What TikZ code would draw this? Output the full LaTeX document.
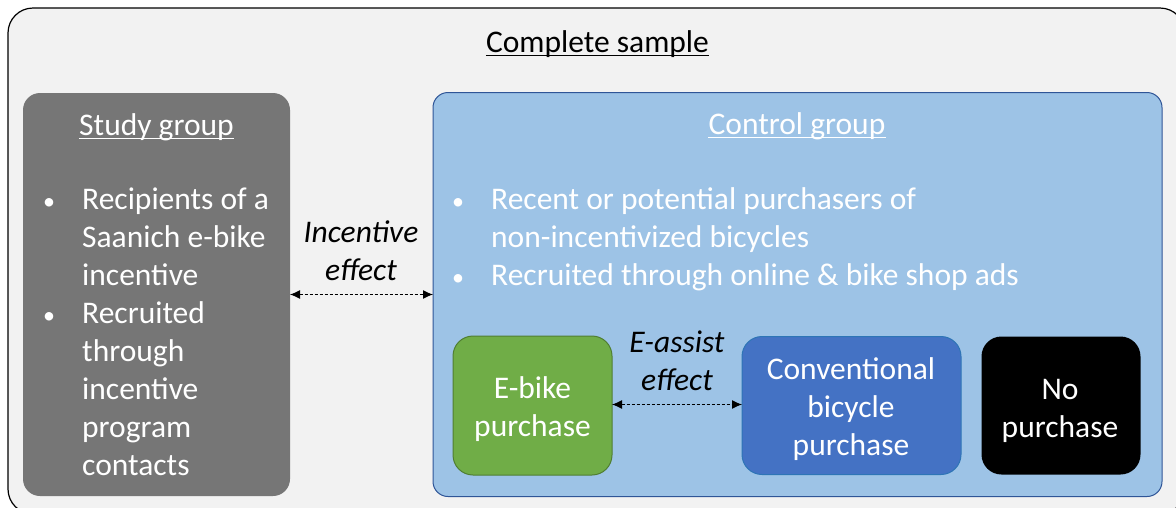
\documentclass[tikz,border=0pt]{standalone}
\usepackage{fontspec}
\setmainfont{Carlito}
\usetikzlibrary{arrows.meta}

\definecolor{samplefill}{HTML}{F2F2F2}
\definecolor{studyfill}{HTML}{767676}
\definecolor{controlfill}{HTML}{9DC3E6}
\definecolor{controlline}{HTML}{2F5597}
\definecolor{ebikefill}{HTML}{70AD47}
\definecolor{ebikeline}{HTML}{507E32}
\definecolor{convfill}{HTML}{4472C4}
\definecolor{convline}{HTML}{2E75B6}

\newcommand\dgmfont{\fontsize{31.5}{38}\selectfont}
\newcommand\dgmbullet{{\fontsize{24}{38}\selectfont\textbullet}}

\tikzset{
  box/.style={rounded corners=#1, inner sep=0pt, outer sep=0pt},
  txt/.style={font=\dgmfont, inner sep=0pt, anchor=base},
  lst/.style={font=\dgmfont, inner sep=0pt, anchor=base west, text=white},
  effect/.style={line width=1pt, dash pattern=on 3pt off 2pt,
    {Latex[length=10pt,width=9pt]}-{Latex[length=10pt,width=9pt]}},
}

\begin{document}
\begin{tikzpicture}[x=1pt, y=-1pt]
\useasboundingbox (0,0) rectangle (1176,507);

% outer container, running past the right and bottom edges
\begin{scope}
  \clip (0,0) rectangle (1176,507);
  \node[box=25pt, draw=black, line width=1.2pt, fill=samplefill,
        minimum width=1177pt, minimum height=506pt] (sample) at (596.5,261) {};
\end{scope}
\node[txt] (sampletitle) at (597.5,52.5) {Complete sample};
\draw[line width=1.4pt] ([yshift=-3pt]sampletitle.base west) -- ([yshift=-3pt]sampletitle.base east);

% study group
\node[box=17pt, fill=studyfill, minimum width=267pt, minimum height=403pt] (study) at (156.5,294.5) {};
\node[txt, text=white] (studytitle) at (156.5,135.5) {Study group};
\draw[white, line width=1.4pt] ([yshift=-3pt]studytitle.base west) -- ([yshift=-3pt]studytitle.base east);
\node[lst] (studylist) at (43,209.5) {\begin{tabular}[t]{@{}p{39pt}@{}l@{}}
  \dgmbullet & Recipients of a\\
             & Saanich e-bike\\
             & incentive\\
  \dgmbullet & Recruited\\
             & through\\
             & incentive\\
             & program\\
             & contacts
\end{tabular}};

% control group
\node[box=15pt, draw=controlline, line width=1pt, fill=controlfill,
      minimum width=729pt, minimum height=404pt] (control) at (797.5,294.5) {};
\node[txt, text=white] (controltitle) at (797,134.5) {Control group};
\draw[white, line width=1.4pt] ([yshift=-3pt]controltitle.base west) -- ([yshift=-3pt]controltitle.base east);
\node[lst] (controllist) at (452,209.5) {\begin{tabular}[t]{@{}p{39pt}@{}l@{}}
  \dgmbullet & Recent or potential purchasers of\\
             & non-incentivized bicycles\\
  \dgmbullet & Recruited through online \& bike shop ads
\end{tabular}};

% purchase outcomes
\node[box=20pt, draw=ebikeline, line width=1pt, fill=ebikefill,
      minimum width=159pt, minimum height=139pt] (ebike) at (532.5,405.5) {};
\node[txt, text=white] (ebiketext) at (532.5,398) {\begin{tabular}[t]{@{}c@{}}E-bike\\purchase\end{tabular}};

\node[box=20pt, draw=convline, line width=1pt, fill=convfill,
      minimum width=219pt, minimum height=138pt] (conv) at (851.5,405.5) {};
\node[txt, text=white] (convtext) at (851,379) {\begin{tabular}[t]{@{}c@{}}Conventional\\bicycle\\purchase\end{tabular}};

\node[box=20pt, fill=black, minimum width=159pt, minimum height=138pt] (nopurchase) at (1061,405.5) {};
\node[txt, text=white] (nopurchasetext) at (1060,399) {\begin{tabular}[t]{@{}c@{}}No\\purchase\end{tabular}};

% effects being compared
\node[txt, font=\dgmfont\itshape] (incentive) at (361,242) {\begin{tabular}[t]{@{}c@{}}Incentive\\effect\end{tabular}};
\draw[effect] (study.east) -- (control.west);

\node[txt, font=\dgmfont\itshape] (eassist) at (677,352.5) {\begin{tabular}[t]{@{}c@{}}E-assist\\effect\end{tabular}};
\draw[effect] ([yshift=1pt]ebike.east) -- ([yshift=1pt]conv.west);
\end{tikzpicture}
\end{document}
